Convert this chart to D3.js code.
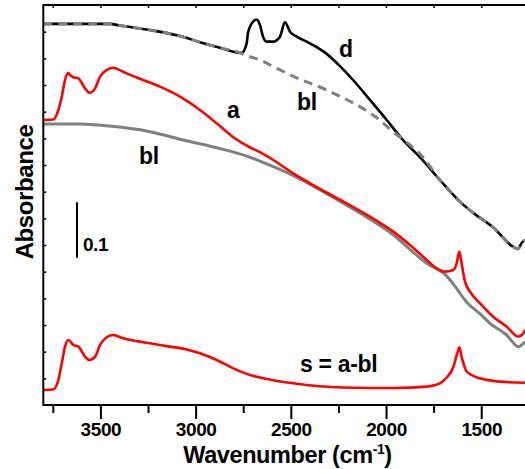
<!DOCTYPE html>
<html><head><meta charset="utf-8">
<script src="https://cdn.jsdelivr.net/npm/d3@7"></script>
<style>
body{margin:0;background:#fff}
svg{display:block}
text{font-family:Arial,"Liberation Sans",sans-serif;font-weight:bold;fill:#000}
</style>
</head><body><svg id="chart" width="525" height="469"></svg>
<script>
// ---- data ----
const xMajorTicks = [3500, 3000, 2500, 2000, 1500];
const xMinorTicks = [3750, 3250, 2750, 2250, 1750];
const xTopTicks = [3750, 3500, 3250, 3000, 2750, 2500, 2250, 2000, 1750, 1500];
const yTicks = [0.048, 0.096, 0.144, 0.192, 0.24, 0.288, 0.336, 0.384, 0.432, 0.48, 0.528, 0.576, 0.624, 0.672];
const scaleBarValue = 0.1;

// spectrum d (black)
const curveD = [[3800,0.686],[3607,0.686],[3450,0.686],[3397,0.683],[3240,0.675],[3082,0.664],[2977,0.653],[2872,0.643],[2767,0.634],[2758,0.634],[2732,0.651],[2725,0.670],[2705,0.687],[2679,0.694],[2662,0.684],[2646,0.663],[2627,0.654],[2594,0.654],[2557,0.663],[2531,0.689],[2504,0.672],[2469,0.663],[2417,0.654],[2364,0.644],[2312,0.632],[2242,0.610],[2173,0.585],[2084,0.549],[1996,0.513],[1911,0.477],[1822,0.446],[1717,0.405],[1612,0.366],[1543,0.346],[1438,0.320],[1333,0.285],[1307,0.281],[1287,0.292],[1270,0.297]];
// baseline for d (grey dashed)
const curveBlUpper = [[3800,0.686],[3607,0.686],[3450,0.686],[3397,0.683],[3240,0.675],[3082,0.664],[2977,0.653],[2872,0.643],[2767,0.634],[2741,0.630],[2662,0.621],[2574,0.606],[2489,0.592],[2312,0.567],[2226,0.553],[2137,0.537],[2049,0.517],[1963,0.492],[1874,0.468],[1806,0.446],[1717,0.405],[1612,0.366],[1543,0.346],[1438,0.320],[1333,0.285],[1307,0.281],[1287,0.292],[1270,0.297]];
// spectrum a (red)
const curveA = [[3800,0.513],[3747,0.514],[3721,0.531],[3703,0.555],[3686,0.585],[3669,0.598],[3660,0.594],[3642,0.590],[3616,0.588],[3581,0.570],[3558,0.562],[3528,0.570],[3502,0.591],[3467,0.603],[3432,0.607],[3406,0.604],[3362,0.597],[3275,0.585],[3187,0.573],[3082,0.555],[2977,0.531],[2889,0.507],[2802,0.482],[2714,0.4635],[2662,0.455],[2592,0.441],[2487,0.417],[2399,0.399],[2224,0.366],[2084,0.339],[1962,0.312],[1874,0.288],[1786,0.261],[1734,0.246],[1690,0.240],[1647,0.243],[1629,0.255],[1615,0.276],[1603,0.255],[1585,0.222],[1559,0.204],[1506,0.183],[1437,0.159],[1366,0.141],[1305,0.123],[1279,0.129],[1270,0.135]];
// baseline for a (grey solid)
const curveBlLower = [[3800,0.506],[3607,0.506],[3450,0.502],[3240,0.492],[3065,0.477],[2889,0.463],[2714,0.446],[2662,0.439],[2487,0.413],[2224,0.363],[1962,0.306],[1786,0.255],[1681,0.232],[1647,0.218],[1576,0.185],[1506,0.164],[1454,0.147],[1366,0.126],[1305,0.105],[1270,0.114]];
// difference s = a - bl (red)
const curveS = [[3800,0.027],[3747,0.028],[3721,0.045],[3703,0.075],[3686,0.105],[3669,0.117],[3642,0.108],[3616,0.105],[3581,0.087],[3558,0.081],[3528,0.087],[3502,0.108],[3467,0.122],[3432,0.126],[3397,0.122],[3327,0.116],[3240,0.111],[3152,0.106],[3047,0.100],[2977,0.093],[2889,0.081],[2802,0.066],[2714,0.054],[2662,0.0495],[2487,0.039],[2224,0.0315],[1962,0.0306],[1786,0.033],[1717,0.039],[1681,0.0495],[1647,0.068],[1626,0.093],[1615,0.104],[1603,0.087],[1576,0.060],[1506,0.048],[1401,0.042],[1270,0.040]];

// ---- chart ----
(function () {
const svg = d3.select("#chart");
const W = 525;
const mLeft = 43.3, mTop = 5, mBottom = 405;
const x = d3.scaleLinear().domain([3800, 1250]).range([mLeft, mLeft + 2550 * 0.1904]);
const y = d3.scaleLinear().domain([0, 0.72]).range([mBottom, mTop]);

svg.append("defs").append("clipPath").attr("id", "clip")
  .append("rect").attr("x", mLeft).attr("y", mTop).attr("width", W - mLeft).attr("height", mBottom - mTop);

const line = d3.line().x(d => x(d[0])).y(d => y(d[1])).curve(d3.curveMonotoneX);
const g = svg.append("g").attr("clip-path", "url(#clip)");

g.append("path").datum(curveD).attr("d", line).attr("fill", "none").attr("stroke", "#000").attr("stroke-width", 2.6).attr("stroke-linejoin", "round");
g.append("path").datum(curveBlUpper).attr("d", line).attr("fill", "none").attr("stroke", "#808080").attr("stroke-width", 3).attr("stroke-dasharray", "9,6");
g.append("path").datum(curveBlLower).attr("d", line).attr("fill", "none").attr("stroke", "#808080").attr("stroke-width", 3).attr("stroke-linejoin", "round");
g.append("path").datum(curveA).attr("d", line).attr("fill", "none").attr("stroke", "#ff0000").attr("stroke-width", 2.6).attr("stroke-linejoin", "round");
g.append("path").datum(curveS).attr("d", line).attr("fill", "none").attr("stroke", "#ff0000").attr("stroke-width", 2.6).attr("stroke-linejoin", "round");

// axes
const xMajor = svg.append("g").attr("transform", `translate(0,${mBottom})`)
  .call(d3.axisBottom(x).tickValues(xMajorTicks).tickSize(14).tickPadding(4).tickFormat(d3.format("d")));
xMajor.select(".domain").remove();
xMajor.selectAll("line").attr("stroke-width", 2);
xMajor.selectAll("text").attr("font-size", 19).attr("font-family", "Arial, 'Liberation Sans', sans-serif").attr("font-weight", "bold").attr("letter-spacing", -0.4);

const xMinor = svg.append("g").attr("transform", `translate(0,${mBottom})`)
  .call(d3.axisBottom(x).tickValues(xMinorTicks).tickSize(8).tickFormat(""));
xMinor.select(".domain").remove();
xMinor.selectAll("line").attr("stroke-width", 2);

const xTop = svg.append("g").attr("transform", `translate(0,${mTop})`)
  .call(d3.axisTop(x).tickValues(xTopTicks).tickSize(-3).tickFormat(""));
xTop.select(".domain").remove();
xTop.selectAll("line").attr("stroke-width", 1.5);

const yAx = svg.append("g").attr("transform", `translate(${mLeft},0)`)
  .call(d3.axisLeft(y).tickValues(yTicks).tickSize(-3).tickFormat(""));
yAx.select(".domain").remove();
yAx.selectAll("line").attr("stroke-width", 1.5);

// frame (left, top, bottom)
svg.append("path")
  .attr("d", `M${W + 5},${mTop}H${mLeft}V${mBottom}H${W + 5}`)
  .attr("fill", "none").attr("stroke", "#000").attr("stroke-width", 2);

// scale bar
const barX = x(3623);
svg.append("line").attr("x1", barX).attr("x2", barX)
  .attr("y1", y(0.265)).attr("y2", y(0.265 + scaleBarValue))
  .attr("stroke", "#000").attr("stroke-width", 2);
svg.append("text").attr("x", x(3592)).attr("y", y(0.277)).attr("font-size", 19).attr("letter-spacing", -0.4).text(String(scaleBarValue));

// curve labels
const lab = (wn, a, t) => svg.append("text").attr("x", x(wn)).attr("y", y(a)).attr("font-size", 23).attr("letter-spacing", -0.3).text(t);
lab(2247, 0.626, "d");
lab(2468, 0.531, "bl");
lab(2835, 0.517, "a");
lab(3297, 0.434, "bl");
lab(2452, 0.059, "s = a-bl");

// axis titles
const xt = svg.append("text").attr("x", 287.5).attr("y", 463).attr("text-anchor", "middle").attr("font-size", 23.5).attr("letter-spacing", -0.4);
xt.append("tspan").text("Wavenumber (cm");
xt.append("tspan").attr("font-size", 14).attr("dy", -9).text("-1");
xt.append("tspan").attr("dy", 9).text(")");

svg.append("text").attr("transform", "translate(33,192) rotate(-90)").attr("text-anchor", "middle")
  .attr("font-size", 24).attr("letter-spacing", -0.4).text("Absorbance");
})();
</script>
</body></html>
